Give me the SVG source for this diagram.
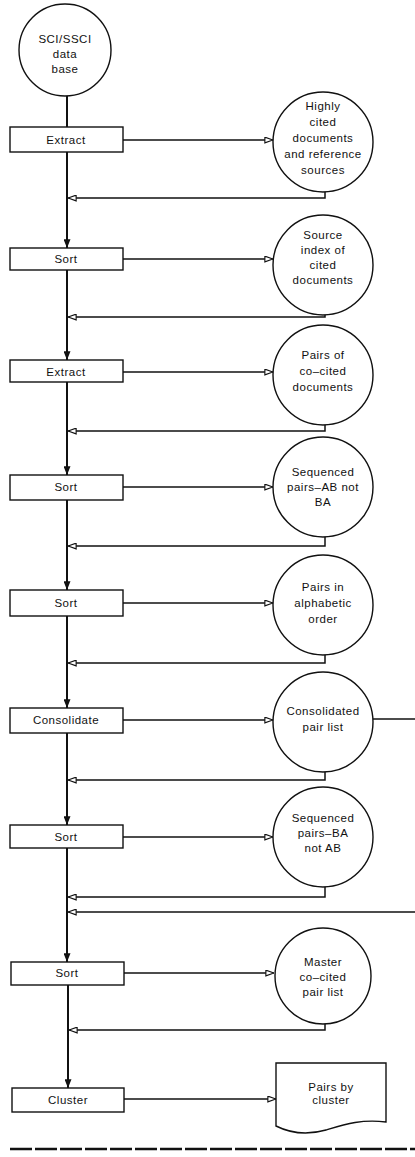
<svg xmlns="http://www.w3.org/2000/svg" width="415" height="1157" viewBox="0 0 415 1157">
<style>
.n{fill:#fff;stroke:#111;stroke-width:1.4}
.t{font-family:"Liberation Sans",Arial,sans-serif;font-size:11.5px;letter-spacing:0.5px;text-anchor:middle;fill:#111}
.trunk{stroke:#111;stroke-width:2;fill:none}
.h{stroke:#111;stroke-width:1.5;fill:none}
</style>
<defs>
<marker id="ar" viewBox="0 0 10 8" refX="10" refY="4" markerWidth="9" markerHeight="7" orient="auto" markerUnits="userSpaceOnUse"><path d="M0.7,0.7 L10,4 L0.7,7.3 Z" fill="#fff" stroke="#111" stroke-width="1.3"/></marker>
<marker id="dn" viewBox="0 0 8 10" refX="4" refY="10" markerWidth="7" markerHeight="9" orient="0" markerUnits="userSpaceOnUse"><path d="M0,0 L8,0 L4,10 Z" fill="#111"/></marker>
</defs>
<rect width="415" height="1157" fill="#fff"/>
<g id="connectors">
<line class="trunk" x1="67" y1="96" x2="67" y2="127"/>
<line class="trunk" x1="67" y1="152" x2="67" y2="248" marker-end="url(#dn)"/>
<line class="trunk" x1="67" y1="270" x2="67" y2="360" marker-end="url(#dn)"/>
<line class="trunk" x1="67" y1="382" x2="67" y2="475" marker-end="url(#dn)"/>
<line class="trunk" x1="67" y1="500" x2="67" y2="590" marker-end="url(#dn)"/>
<line class="trunk" x1="67" y1="616" x2="67" y2="708" marker-end="url(#dn)"/>
<line class="trunk" x1="67" y1="733" x2="67" y2="825" marker-end="url(#dn)"/>
<line class="trunk" x1="67" y1="848" x2="67" y2="962" marker-end="url(#dn)"/>
<line class="trunk" x1="68" y1="985" x2="68" y2="1088" marker-end="url(#dn)"/>
<line class="h" x1="123" y1="140" x2="273" y2="140" marker-end="url(#ar)"/>
<line class="h" x1="123" y1="259" x2="273" y2="259" marker-end="url(#ar)"/>
<line class="h" x1="123" y1="372" x2="273" y2="372" marker-end="url(#ar)"/>
<line class="h" x1="123" y1="487" x2="273" y2="487" marker-end="url(#ar)"/>
<line class="h" x1="123" y1="603" x2="273" y2="603" marker-end="url(#ar)"/>
<line class="h" x1="123" y1="720" x2="273" y2="720" marker-end="url(#ar)"/>
<line class="h" x1="123" y1="837" x2="273" y2="837" marker-end="url(#ar)"/>
<line class="h" x1="123" y1="973" x2="274" y2="973" marker-end="url(#ar)"/>
<line class="h" x1="124" y1="1099" x2="276" y2="1099" marker-end="url(#ar)"/>
<polyline class="h" points="325,191 325,198 68,198" marker-end="url(#ar)"/>
<polyline class="h" points="325,314 325,317 68,317" marker-end="url(#ar)"/>
<polyline class="h" points="325,424 325,431 68,431" marker-end="url(#ar)"/>
<polyline class="h" points="325,536 325,546 68,546" marker-end="url(#ar)"/>
<polyline class="h" points="325,654 325,663 68,663" marker-end="url(#ar)"/>
<polyline class="h" points="325,771 325,780 68,780" marker-end="url(#ar)"/>
<polyline class="h" points="325,886 325,897 68,897" marker-end="url(#ar)"/>
<line class="h" x1="373" y1="719" x2="415" y2="719"/>
<line class="h" x1="415" y1="912" x2="68" y2="912" marker-end="url(#ar)"/>
<polyline class="h" points="325,1023 325,1030 69,1030" marker-end="url(#ar)"/>
</g>
<g id="db"><circle class="n" cx="65" cy="50" r="46"/><text class="t" x="65" y="43">SCI/SSCI</text><text class="t" x="65" y="58">data</text><text class="t" x="65" y="73">base</text></g>
<g id="p1"><rect class="n" x="10" y="127" width="113" height="25"/><text class="t" x="66" y="144">Extract</text></g>
<g id="o1"><circle class="n" cx="323" cy="142" r="50"/><text class="t" x="323" y="110">Highly</text><text class="t" x="323" y="126">cited</text><text class="t" x="323" y="142">documents</text><text class="t" x="323" y="158">and reference</text><text class="t" x="323" y="174">sources</text></g>
<g id="p2"><rect class="n" x="10" y="248" width="113" height="22"/><text class="t" x="66" y="263">Sort</text></g>
<g id="o2"><circle class="n" cx="323" cy="265" r="50"/><text class="t" x="323" y="239">Source</text><text class="t" x="323" y="254">index of</text><text class="t" x="323" y="269">cited</text><text class="t" x="323" y="284">documents</text></g>
<g id="p3"><rect class="n" x="10" y="360" width="113" height="22"/><text class="t" x="66" y="376">Extract</text></g>
<g id="o3"><circle class="n" cx="323" cy="375" r="50"/><text class="t" x="323" y="359">Pairs of</text><text class="t" x="323" y="375">co–cited</text><text class="t" x="323" y="391">documents</text></g>
<g id="p4"><rect class="n" x="10" y="475" width="113" height="25"/><text class="t" x="66" y="491">Sort</text></g>
<g id="o4"><circle class="n" cx="323" cy="487" r="50"/><text class="t" x="323" y="476">Sequenced</text><text class="t" x="323" y="491">pairs–AB not</text><text class="t" x="323" y="506">BA</text></g>
<g id="p5"><rect class="n" x="10" y="590" width="113" height="26"/><text class="t" x="66" y="607">Sort</text></g>
<g id="o5"><circle class="n" cx="323" cy="605" r="50"/><text class="t" x="323" y="591">Pairs in</text><text class="t" x="323" y="607">alphabetic</text><text class="t" x="323" y="623">order</text></g>
<g id="p6"><rect class="n" x="10" y="708" width="113" height="25"/><text class="t" x="66" y="724">Consolidate</text></g>
<g id="o6"><circle class="n" cx="323" cy="722" r="50"/><text class="t" x="323" y="715">Consolidated</text><text class="t" x="323" y="731">pair list</text></g>
<g id="p7"><rect class="n" x="10" y="825" width="113" height="23"/><text class="t" x="66" y="841">Sort</text></g>
<g id="o7"><circle class="n" cx="323" cy="837" r="50"/><text class="t" x="323" y="822">Sequenced</text><text class="t" x="323" y="837">pairs–BA</text><text class="t" x="323" y="852">not AB</text></g>
<g id="p8"><rect class="n" x="11" y="962" width="113" height="23"/><text class="t" x="67" y="977">Sort</text></g>
<g id="o8"><circle class="n" cx="323" cy="976" r="48"/><text class="t" x="323" y="966">Master</text><text class="t" x="323" y="981">co–cited</text><text class="t" x="323" y="996">pair list</text></g>
<g id="p9"><rect class="n" x="12" y="1088" width="112" height="24"/><text class="t" x="68" y="1104">Cluster</text></g>
<g id="doc"><path class="n" d="M276,1063 H386 V1122 C362,1119 346,1124 326,1130 C305,1136 290,1133 276,1126 Z"/><text class="t" x="331" y="1091">Pairs by</text><text class="t" x="331" y="1104">cluster</text></g>
<line x1="10" y1="1149" x2="415" y2="1149" stroke="#111" stroke-width="2.5" stroke-dasharray="22 3"/>
</svg>
